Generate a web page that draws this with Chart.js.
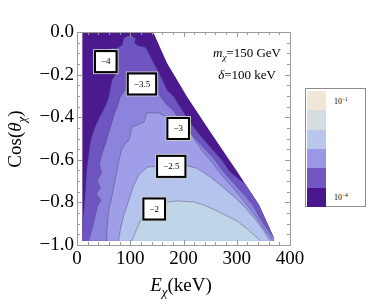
<!DOCTYPE html>
<html>
<head>
<meta charset="utf-8">
<script src="https://cdn.jsdelivr.net/npm/chart.js@4.4.0/dist/chart.umd.min.js"></script>
<style>
    body { margin: 0; background: #fff; }
    #wrap { position: relative; width: 374px; height: 305px; }
    #legend { position: absolute; left: 305px; top: 88px; width: 61px; height: 119px;
              border: 1px solid #8c8c8c; box-sizing: border-box; background: #fff; }
    #legend .sw { position: absolute; left: 1px; width: 19px; }
    #legend .lab { position: absolute; left: 28px; font: 8px "Liberation Serif", serif; color: #000; }
    #legend .lab sup { font-size: 5.5px; vertical-align: 3px; }
</style>
</head>
<body>
<div id="wrap">
    <canvas id="c" width="374" height="305"></canvas>
    <div id="legend"></div>
</div>
<script>
// region where the rate is defined (E in keV, cos theta)
const eMin = 10;
const eMax = 370;
const cosMin = -0.98;
const edgeE = [143, 169, 207, 248, 300, 342, 370];
const edgeCos = [0, -0.146, -0.305, -0.46, -0.653, -0.812, -0.967];

// contour lines, log10 of the rate
const c4E = [10, 11, 14, 16, 18, 22, 25, 28, 34, 43, 53, 60, 62, 66, 73, 70, 64, 60, 68, 75,
    85, 88, 94, 103, 110, 108, 116, 128, 132, 141, 156, 169, 182, 197, 216, 235, 255, 272, 286, 301, 316];
const c4Cos = [-0.925, -0.887, -0.81, -0.732, -0.654, -0.576, -0.52, -0.49, -0.445, -0.398,
    -0.35, -0.304, -0.272, -0.225, -0.192, -0.15, -0.1, -0.082, -0.076, -0.077,
    -0.061, -0.03, -0.019, -0.019, -0.03, -0.053, -0.066, -0.072, -0.085, -0.131,
    -0.202, -0.272, -0.305, -0.366, -0.437, -0.498, -0.554, -0.601, -0.653, -0.685, -0.714];

const c35E = [22, 24, 32, 38, 45, 36, 44, 38, 46, 42, 47, 54, 60, 66, 71, 77, 81, 94, 150, 156,
    168, 180, 200, 221, 242, 259, 274, 287, 300, 316, 331, 343, 357, 368];
const c35Cos = [-0.98, -0.96, -0.89, -0.82, -0.79, -0.76, -0.73, -0.70, -0.66, -0.62,
    -0.57, -0.52, -0.47, -0.42, -0.38, -0.34, -0.305, -0.26, -0.26, -0.3,
    -0.34, -0.366, -0.437, -0.498, -0.554, -0.601, -0.653, -0.69, -0.725, -0.77,
    -0.815, -0.87, -0.925, -0.96];

const c3E = [55, 56, 58, 60, 64, 68, 72, 75, 79, 84, 92, 98, 103, 126, 131, 154, 169, 190, 210, 220,
    234, 250, 266, 280, 296, 312, 326, 340, 352, 362, 368];
const c3Cos = [-0.98, -0.93, -0.88, -0.83, -0.79, -0.74, -0.69, -0.65, -0.6, -0.55,
    -0.52, -0.507, -0.446, -0.423, -0.38, -0.38, -0.4, -0.44, -0.46, -0.5,
    -0.554, -0.601, -0.653, -0.695, -0.74, -0.79, -0.835, -0.88, -0.925, -0.96, -0.98];

const c25E = [78, 82, 88, 96, 105, 116, 132, 150, 203, 225, 250, 275, 298, 318, 335, 350, 362];
const c25Cos = [-0.98, -0.92, -0.86, -0.8, -0.73, -0.67, -0.635, -0.63, -0.625, -0.64,
    -0.68, -0.73, -0.78, -0.83, -0.88, -0.93, -0.98];

const c2E = [103, 108, 113, 118, 124, 165, 188, 220, 238, 263, 300, 320, 338, 344];
const c2Cos = [-0.98, -0.95, -0.92, -0.89, -0.87, -0.8, -0.793, -0.798, -0.812, -0.84,
    -0.887, -0.925, -0.965, -0.98];

// contour labels
const labelText = ['\u22124', '\u22123.5', '\u22123', '\u22122.5', '\u22122'];
const labelE = [54, 122, 190, 177, 145];
const labelCos = [-0.139, -0.244, -0.453, -0.631, -0.831];

// tick labels
const xTicks = [0, 100, 200, 300, 400];
const yTicks = [-1, -0.8, -0.6, -0.4, -0.2, 0];

// fill colours, from lowest level to highest
const fillColors = ['#4b1a8f', '#6e55c2', '#8b83dc', '#a09ee8', '#b5c4ec', '#bfd5e8'];
const legendColors = ['#f1e7d6', '#d5dde0', '#b9c7ec', '#9b96e6', '#7257c0', '#4a168d'];
const legendLabels = ['10<sup>\u22121</sup>', '10<sup>\u22124</sup>'];

const SERIF = '"Liberation Serif", "Times New Roman", serif';

// helper functions
function toPoints(es, cs) {
    let pts = [];
    for (let i = 0; i < es.length; i++) {
        pts.push({ x: es[i], y: cs[i] });
    }
    return pts;
}

// close a contour line into the region above it, along the edge of the domain
function region(es, cs) {
    let pts = toPoints(es, cs);
    const first = pts[0];
    const last = pts[pts.length - 1];
    if (last.y > cosMin) {
        for (let i = 0; i < edgeE.length; i++) {
            if (edgeCos[i] < last.y) pts.push({ x: edgeE[i], y: edgeCos[i] });
        }
        pts.push({ x: eMax, y: cosMin });
    }
    if (first.y > cosMin) pts.push({ x: eMin, y: cosMin });
    return pts;
}

function domain() {
    let pts = [{ x: eMin, y: 0 }];
    pts = pts.concat(toPoints(edgeE, edgeCos));
    pts.push({ x: eMax, y: cosMin });
    pts.push({ x: eMin, y: cosMin });
    return pts;
}

function fillSet(pts, color, order) {
    return {
        data: pts, showLine: true, fill: 'shape', backgroundColor: color,
        borderColor: 'transparent', borderWidth: 0, pointRadius: 0, order: order,
    };
}

function lineSet(es, cs) {
    return {
        data: toPoints(es, cs), showLine: true, fill: false,
        borderColor: 'rgba(70,70,100,0.55)', borderWidth: 0.8, pointRadius: 0, order: 0,
    };
}

const lines = [[c4E, c4Cos], [c35E, c35Cos], [c3E, c3Cos], [c25E, c25Cos], [c2E, c2Cos]];
let datasets = [fillSet(domain(), fillColors[0], 10)];
lines.forEach(([es, cs], i) => datasets.push(fillSet(region(es, cs), fillColors[i + 1], 9 - i)));
lines.forEach(([es, cs]) => datasets.push(lineSet(es, cs)));

function fmtY(v) {
    const r = Math.round(v * 10) / 10;
    if (r === 0) return '0.0';
    return '\u2212' + Math.abs(r).toFixed(1);
}

// draws text pieces [text, font, dy] one after another
function drawPieces(ctx, pieces, x, y) {
    for (const [txt, font, dy] of pieces) {
        ctx.font = font;
        ctx.fillText(txt, x, y + dy);
        x += ctx.measureText(txt).width;
    }
}

function piecesWidth(ctx, pieces) {
    let w = 0;
    for (const [txt, font] of pieces) {
        ctx.font = font;
        w += ctx.measureText(txt).width;
    }
    return w;
}

const decorations = {
    id: 'decorations',
    afterDraw(chart) {
        const { ctx, chartArea: a, scales: { x, y } } = chart;
        ctx.save();
        // frame with inward ticks
        ctx.strokeStyle = '#9a9a9a';
        ctx.lineWidth = 1;
        ctx.strokeRect(a.left + 0.5, a.top + 0.5, a.right - a.left, a.bottom - a.top);
        ctx.beginPath();
        for (let v = 0; v <= 400; v += 20) {
            const px = Math.round(x.getPixelForValue(v)) + 0.5;
            const len = v % 100 === 0 ? 5 : 3;
            ctx.moveTo(px, a.bottom); ctx.lineTo(px, a.bottom - len);
            ctx.moveTo(px, a.top); ctx.lineTo(px, a.top + len);
        }
        for (let i = 0; i <= 20; i++) {
            const py = Math.round(y.getPixelForValue(-1 + i * 0.05)) + 0.5;
            const len = i % 4 === 0 ? 5 : 3;
            ctx.moveTo(a.left, py); ctx.lineTo(a.left + len, py);
            ctx.moveTo(a.right, py); ctx.lineTo(a.right - len, py);
        }
        ctx.stroke();

        // contour labels
        ctx.textAlign = 'center';
        ctx.textBaseline = 'middle';
        ctx.font = '9px ' + SERIF;
        for (let i = 0; i < labelText.length; i++) {
            const cx = x.getPixelForValue(labelE[i]);
            const cy = y.getPixelForValue(labelCos[i]);
            const w = ctx.measureText(labelText[i]).width + 12;
            const h = 21;
            ctx.fillStyle = '#fff';
            ctx.fillRect(cx - w / 2, cy - h / 2, w, h);
            ctx.strokeStyle = '#c8c8c8';
            ctx.lineWidth = 1;
            ctx.strokeRect(cx - w / 2 - 1.5, cy - h / 2 - 1.5, w + 3, h + 3);
            ctx.strokeStyle = '#000';
            ctx.lineWidth = 2;
            ctx.strokeRect(cx - w / 2, cy - h / 2, w, h);
            ctx.fillStyle = '#000';
            ctx.fillText(labelText[i], cx, cy + 0.5);
        }

        // mass and splitting annotation
        ctx.textAlign = 'left';
        ctx.textBaseline = 'alphabetic';
        ctx.fillStyle = '#000';
        const mPieces = [['m', 'italic 13px ' + SERIF, 0], ['\u03c7', 'italic 9px ' + SERIF, 3],
            ['=150 GeV', '13px ' + SERIF, 0]];
        drawPieces(ctx, mPieces, a.right - 9 - piecesWidth(ctx, mPieces), 57);
        const dPieces = [['\u03b4', 'italic 13px ' + SERIF, 0], ['=100 keV', '13px ' + SERIF, 0]];
        drawPieces(ctx, dPieces, a.right - 14 - piecesWidth(ctx, dPieces), 79);

        // axis titles
        const xt = [['E', 'italic 19px ' + SERIF, 0], ['\u03c7', 'italic 13px ' + SERIF, 5],
            ['(keV)', '19px ' + SERIF, 0]];
        drawPieces(ctx, xt, 181 - piecesWidth(ctx, xt) / 2, 291);
        const yt = [['Cos(', '19px ' + SERIF, 0], ['\u03b8', 'italic 19px ' + SERIF, 0],
            ['\u03c7', 'italic 13px ' + SERIF, 5], [')', '19px ' + SERIF, 0]];
        ctx.translate(21, 139);
        ctx.rotate(-Math.PI / 2);
        drawPieces(ctx, yt, -piecesWidth(ctx, yt) / 2, 0);
        ctx.restore();
    }
};

new Chart(document.getElementById('c'), {
    type: 'scatter',
    data: { datasets: datasets },
    options: {
        responsive: false,
        animation: false,
        devicePixelRatio: 1,
        events: [],
        layout: { padding: { left: 0, top: 32, right: 84, bottom: 0 } },
        plugins: { legend: { display: false }, tooltip: { enabled: false } },
        scales: {
            x: {
                type: 'linear', min: 0, max: 400,
                afterFit: (s) => { s.height = 60; },
                afterBuildTicks: (s) => { s.ticks = xTicks.map(v => ({ value: v })); },
                grid: { display: false, drawTicks: false },
                border: { display: false },
                ticks: {
                    color: '#000', padding: 3, maxRotation: 0,
                    font: { family: SERIF, size: 19 },
                    callback: (v) => String(v),
                },
            },
            y: {
                type: 'linear', min: -1, max: 0,
                afterFit: (s) => { s.width = 77; },
                afterBuildTicks: (s) => { s.ticks = yTicks.map(v => ({ value: v })); },
                grid: { display: false, drawTicks: false },
                border: { display: false },
                ticks: {
                    color: '#000', padding: 3,
                    font: { family: SERIF, size: 19 },
                    callback: fmtY,
                },
            },
        },
    },
    plugins: [decorations],
});

// bar legend on the right
const legend = document.getElementById('legend');
legendColors.forEach((col, i) => {
    const sw = document.createElement('div');
    sw.className = 'sw';
    sw.style.top = (2 + i * 19.3) + 'px';
    sw.style.height = '19.4px';
    sw.style.background = col;
    legend.appendChild(sw);
});
legendLabels.forEach((txt, i) => {
    const lab = document.createElement('span');
    lab.className = 'lab';
    lab.style.top = (i === 0 ? 7 : 103) + 'px';
    lab.innerHTML = txt;
    legend.appendChild(lab);
});
</script>
</body>
</html>
